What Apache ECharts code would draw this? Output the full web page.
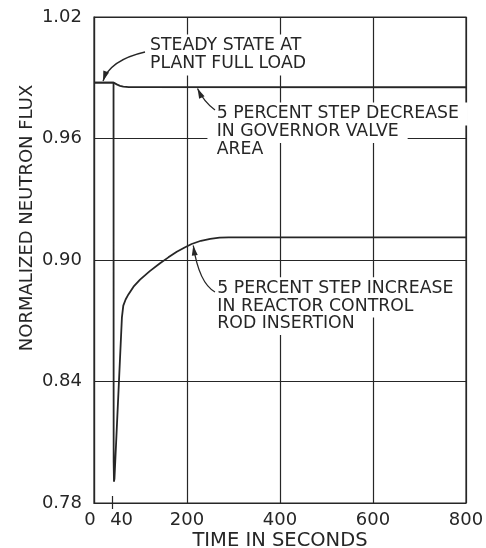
<!DOCTYPE html>
<html>
<head>
<meta charset="utf-8">
<script src="https://cdn.jsdelivr.net/npm/echarts@6/dist/echarts.min.js"></script>
<style>
html,body{margin:0;padding:0;background:#fff;}
#chart{width:486px;height:548px;}
</style>
</head>
<body>
<div id="chart"></div>
<script>
// ---- data (time in seconds, normalized neutron flux) ----
const valveTime = [0, 42, 45, 50, 56, 63, 75, 800];
const valveFlux = [0.9876, 0.9876, 0.9873, 0.9866, 0.9860, 0.9856, 0.9854, 0.9853];

const rodTime = [0, 42, 42.3, 43, 44, 60, 63, 68, 74, 85, 99, 120, 142, 160, 178, 195, 210, 230, 250, 270, 290, 800];
const rodFlux = [0.9876, 0.9876, 0.800, 0.7905, 0.792, 0.8715, 0.8775, 0.8805, 0.8830, 0.8868, 0.8903, 0.8945, 0.8984, 0.9013, 0.9041, 0.9062, 0.9079, 0.9095, 0.9104, 0.9110, 0.9112, 0.9112];

const xTickLabels = [0, 40, 200, 400, 600, 800];
const xMarkTick = [40];
const yTickLabels = [0.78, 0.84, 0.90, 0.96, 1.02];

const xAxisTitle = 'TIME IN SECONDS';
const yAxisTitle = 'NORMALIZED NEUTRON FLUX';

// annotation texts (anchor: left edge time, centre flux of each line)
const noteSteady = ['STEADY STATE AT', 'PLANT FULL LOAD'];
const noteSteadyAt = [[120.4, 1.00568], [120.4, 0.99679]];
const noteValve = ['5 PERCENT STEP DECREASE', 'IN GOVERNOR VALVE', 'AREA'];
const noteValveAt = [[263.8, 0.97210], [263.8, 0.96346], [263.8, 0.95481]];
const noteRod = ['5 PERCENT STEP INCREASE', 'IN REACTOR CONTROL', 'ROD INSERTION'];
const noteRodAt = [[265.3, 0.88583], [265.3, 0.87728], [265.3, 0.86864]];

// arrows: start, control, tip (data coordinates)
const arrowSteady = [[109.7, 1.00272], [34.4, 0.99877], [19.4, 0.98840]];
const arrowValve = [[260.2, 0.97407], [236.6, 0.97802], [222.6, 0.98469]];
const arrowRod = [[260.2, 0.88420], [225.8, 0.88864], [213.5, 0.90716]];

const INK = '#262626';
const FONT = 'DejaVu Sans';

const chart = echarts.init(document.getElementById('chart'), null, {renderer: 'canvas'});

function zip(a, b) { return a.map((x, i) => [x, b[i]]); }

chart.setOption({
  animation: false,
  backgroundColor: '#fff',
  grid: {left: 94, right: 20, top: 17, bottom: 45, show: true, borderColor: INK, borderWidth: 1.2,
    backgroundColor: 'transparent', containLabel: false, outerBoundsMode: 'none'},
  xAxis: [{
    type: 'value', min: 0, max: 800, interval: 200,
    name: xAxisTitle, nameLocation: 'middle', nameGap: 28, nameMoveOverlap: false,
    nameTextStyle: {color: INK, fontFamily: FONT, fontSize: 19.5},
    axisLine: {show: true, lineStyle: {color: INK, width: 1.2}},
    axisTick: {show: false},
    axisLabel: {
      customValues: xTickLabels, margin: 8, color: INK, fontFamily: FONT, fontSize: 18,
      formatter: function (v) {
        if (v === 0) return '{l|0}';
        if (v === 40) return '{r|40}';
        return String(v);
      },
      rich: {
        l: {color: INK, fontFamily: FONT, fontSize: 18, padding: [0, 8, 0, 0]},
        r: {color: INK, fontFamily: FONT, fontSize: 18, padding: [0, 0, 0, 18]}
      }
    },
    splitLine: {show: true, lineStyle: {color: INK, width: 1.2}}
  }, {
    type: 'value', min: 0, max: 800, position: 'bottom', offset: 6,
    axisLine: {show: false},
    axisTick: {show: true, customValues: xMarkTick, length: 13, inside: true, lineStyle: {color: INK, width: 1.2}},
    axisLabel: {show: false},
    splitLine: {show: false}
  }],
  yAxis: {
    type: 'value', min: 0.78, max: 1.02, interval: 0.06,
    name: yAxisTitle, nameLocation: 'middle', nameGap: 58, nameRotate: 90, nameMoveOverlap: false,
    nameTextStyle: {color: INK, fontFamily: FONT, fontSize: 18, padding: [0, 0, 0, 84]},
    axisLine: {show: true, lineStyle: {color: INK, width: 1.2}},
    axisTick: {show: false},
    axisLabel: {
      margin: 12, color: INK, fontFamily: FONT, fontSize: 18,
      padding: [0, 0, 6, 0],
      formatter: function (v) { return v.toFixed(2); }
    },
    splitLine: {show: true, lineStyle: {color: INK, width: 1.2}}
  },
  series: [{
    type: 'line', name: 'valve', xAxisIndex: 0, data: zip(valveTime, valveFlux), showSymbol: false, symbol: 'none',
    lineStyle: {color: INK, width: 1.8}, z: 3
  }, {
    type: 'line', name: 'rod', xAxisIndex: 0, data: zip(rodTime, rodFlux), showSymbol: false, symbol: 'none',
    lineStyle: {color: INK, width: 1.8}, z: 3
  }]
});

function P(p) { return chart.convertToPixel({xAxisIndex: 0, yAxisIndex: 0}, p); }

const graphics = [];
const PADX = 9;
function addNote(lines, anchors) {
  lines.forEach(function (txt, i) {
    const p = P(anchors[i]);
    graphics.push({
      type: 'text', x: p[0] - PADX, y: p[1], z: 50,
      style: {text: txt, fill: INK, font: '17.3px "' + FONT + '"', align: 'left', verticalAlign: 'middle',
        backgroundColor: '#fff', padding: [3, PADX, 3, PADX]}
    });
  });
}
function addArrow(pts) {
  const s = P(pts[0]), c = P(pts[1]), e = P(pts[2]);
  graphics.push({
    type: 'bezierCurve', z: 60,
    shape: {x1: s[0], y1: s[1], cpx1: c[0], cpy1: c[1], x2: e[0], y2: e[1]},
    style: {stroke: INK, lineWidth: 1.3, fill: null}
  });
  const dx = e[0] - c[0], dy = e[1] - c[1];
  const L = Math.sqrt(dx * dx + dy * dy);
  const ux = dx / L, uy = dy / L;
  const len = 10, hw = 3;
  const bx = e[0] - ux * len, by = e[1] - uy * len;
  graphics.push({
    type: 'polygon', z: 61,
    shape: {points: [[e[0], e[1]], [bx - uy * hw, by + ux * hw], [bx + uy * hw, by - ux * hw]]},
    style: {fill: INK}
  });
}
addNote(noteSteady, noteSteadyAt);
addNote(noteValve, noteValveAt);
addNote(noteRod, noteRodAt);
addArrow(arrowSteady);
addArrow(arrowValve);
addArrow(arrowRod);

chart.setOption({graphic: graphics});
</script>
</body>
</html>
